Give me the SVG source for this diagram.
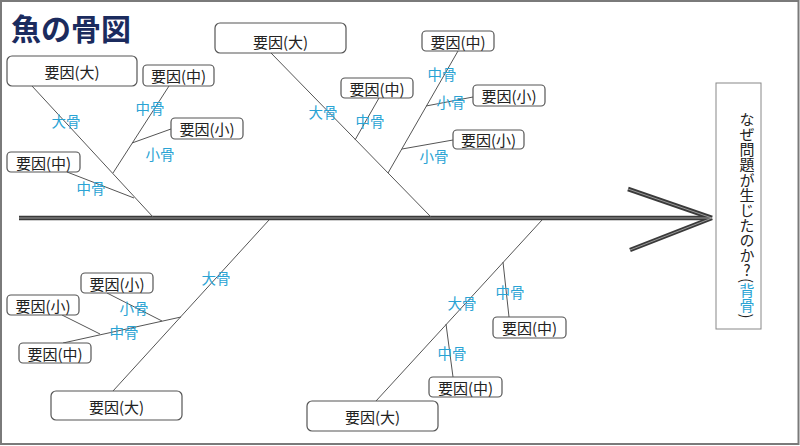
<svg xmlns="http://www.w3.org/2000/svg" width="800" height="446" viewBox="0 0 800 446">
<style>
.box{fill:#fff;stroke:#555;stroke-width:1.2}
.bt{font-family:"Noto Sans CJK JP","Noto Sans",sans-serif;font-size:15px;fill:#222;text-anchor:middle;dominant-baseline:central}
.lb{font-family:"Noto Sans CJK JP","Noto Sans",sans-serif;font-size:14.5px;fill:#2aa3d4;text-anchor:middle;dominant-baseline:central}
.bone{stroke:#555;stroke-width:1;fill:none}
.sp1{stroke:#3a3a3a;stroke-width:4.5;fill:none;stroke-linecap:butt}
.sp2{stroke:#9a9a9a;stroke-width:1;fill:none}
</style>
<rect x="0" y="0" width="800" height="446" fill="#fff"/>
<rect x="1" y="1" width="797.5" height="443" fill="none" stroke="#7a7a7a" stroke-width="2"/>
<text x="11" y="40" font-family="Noto Sans CJK JP,sans-serif" font-size="30" font-weight="bold" fill="#1b2b5e">魚の骨図</text>

<g id="connectors">
  <g id="spine">
    <line class="sp1" x1="19" y1="218" x2="711" y2="218"/>
    <line class="sp1" x1="628" y1="189" x2="712" y2="218"/>
    <line class="sp1" x1="630" y1="250" x2="712" y2="218"/>
    <line class="sp2" x1="19" y1="218" x2="711" y2="218"/>
    <line class="sp2" x1="628" y1="189" x2="712" y2="218"/>
    <line class="sp2" x1="630" y1="250" x2="712" y2="218"/>
  </g>
  <!-- top-left -->
  <line class="bone" x1="32" y1="86" x2="153" y2="217"/>
  <line class="bone" x1="169" y1="86" x2="113" y2="173"/>
  <line class="bone" x1="171" y1="129" x2="132" y2="143"/>
  <line class="bone" x1="67" y1="172" x2="134" y2="198"/>
  <!-- top-middle -->
  <line class="bone" x1="271" y1="53" x2="431" y2="217"/>
  <line class="bone" x1="379" y1="98" x2="355" y2="140"/>
  <line class="bone" x1="458" y1="51" x2="388" y2="173"/>
  <line class="bone" x1="473" y1="97" x2="426" y2="106"/>
  <line class="bone" x1="453" y1="140" x2="402" y2="149"/>
  <!-- bottom-left -->
  <line class="bone" x1="269" y1="220" x2="113" y2="391"/>
  <line class="bone" x1="181" y1="317" x2="63" y2="343"/>
  <line class="bone" x1="107" y1="293" x2="162" y2="321"/>
  <line class="bone" x1="62" y1="315" x2="100" y2="334"/>
  <!-- bottom-right -->
  <line class="bone" x1="542" y1="220" x2="376" y2="401"/>
  <line class="bone" x1="503" y1="262" x2="509" y2="317"/>
  <line class="bone" x1="446" y1="324" x2="453" y2="377"/>
</g>

<g id="labels">
  <text class="lb" x="66" y="120">大骨</text>
  <text class="lb" x="150" y="107">中骨</text>
  <text class="lb" x="160" y="153">小骨</text>
  <text class="lb" x="91" y="187">中骨</text>
  <text class="lb" x="323" y="111">大骨</text>
  <text class="lb" x="370" y="120">中骨</text>
  <text class="lb" x="442" y="73">中骨</text>
  <text class="lb" x="451" y="101">小骨</text>
  <text class="lb" x="434" y="155">小骨</text>
  <text class="lb" x="216" y="277">大骨</text>
  <text class="lb" x="124" y="331">中骨</text>
  <text class="lb" x="134" y="307">小骨</text>
  <text class="lb" x="462" y="302">大骨</text>
  <text class="lb" x="510" y="291">中骨</text>
  <text class="lb" x="452" y="352">中骨</text>
</g>

<g id="n1"><rect class="box" x="7" y="56" width="130" height="30" rx="5"/><text class="bt" x="72" y="71">要因(大)</text></g>
<g id="n2"><rect class="box" x="143" y="65" width="71" height="21" rx="4"/><text class="bt" x="178.5" y="75.5">要因(中)</text></g>
<g id="n3"><rect class="box" x="171" y="118" width="72" height="21" rx="4"/><text class="bt" x="207" y="128.5">要因(小)</text></g>
<g id="n4"><rect class="box" x="7" y="152" width="73" height="20" rx="4"/><text class="bt" x="43.5" y="162">要因(中)</text></g>
<g id="n5"><rect class="box" x="215" y="23" width="131" height="30" rx="5"/><text class="bt" x="280.5" y="41">要因(大)</text></g>
<g id="n6"><rect class="box" x="341" y="78" width="72" height="20" rx="4"/><text class="bt" x="377" y="88">要因(中)</text></g>
<g id="n7"><rect class="box" x="422" y="31" width="72" height="20" rx="4"/><text class="bt" x="458" y="41">要因(中)</text></g>
<g id="n8"><rect class="box" x="473" y="85" width="72" height="21" rx="4"/><text class="bt" x="509" y="95.5">要因(小)</text></g>
<g id="n9"><rect class="box" x="453" y="130" width="71" height="19" rx="4"/><text class="bt" x="488.5" y="139.5">要因(小)</text></g>
<g id="n10"><rect class="box" x="81" y="273" width="72" height="20" rx="4"/><text class="bt" x="117" y="283">要因(小)</text></g>
<g id="n11"><rect class="box" x="7" y="295" width="72" height="20" rx="4"/><text class="bt" x="43" y="305">要因(小)</text></g>
<g id="n12"><rect class="box" x="19" y="343" width="72" height="20" rx="4"/><text class="bt" x="55" y="353">要因(中)</text></g>
<g id="n13"><rect class="box" x="51" y="391" width="131" height="29" rx="5"/><text class="bt" x="116.5" y="406">要因(大)</text></g>
<g id="n14"><rect class="box" x="493" y="317" width="73" height="21" rx="4"/><text class="bt" x="529.5" y="327.5">要因(中)</text></g>
<g id="n15"><rect class="box" x="429" y="377" width="73" height="20" rx="4"/><text class="bt" x="465.5" y="387">要因(中)</text></g>
<g id="n16"><rect class="box" x="307" y="401" width="131" height="30" rx="5"/><text class="bt" x="372.5" y="416">要因(大)</text></g>

<g id="head">
  <rect x="716" y="83" width="45" height="246" fill="#fff" stroke="#888" stroke-width="1"/>
  <text x="747" y="112" font-family="Noto Sans CJK JP,sans-serif" font-size="15" letter-spacing="0.1" fill="#222" style="writing-mode:vertical-rl">なぜ問題が生じたのか<tspan style="text-orientation:upright">?</tspan>(<tspan fill="#2aa3d4">背骨</tspan>)</text>
</g>
</svg>
